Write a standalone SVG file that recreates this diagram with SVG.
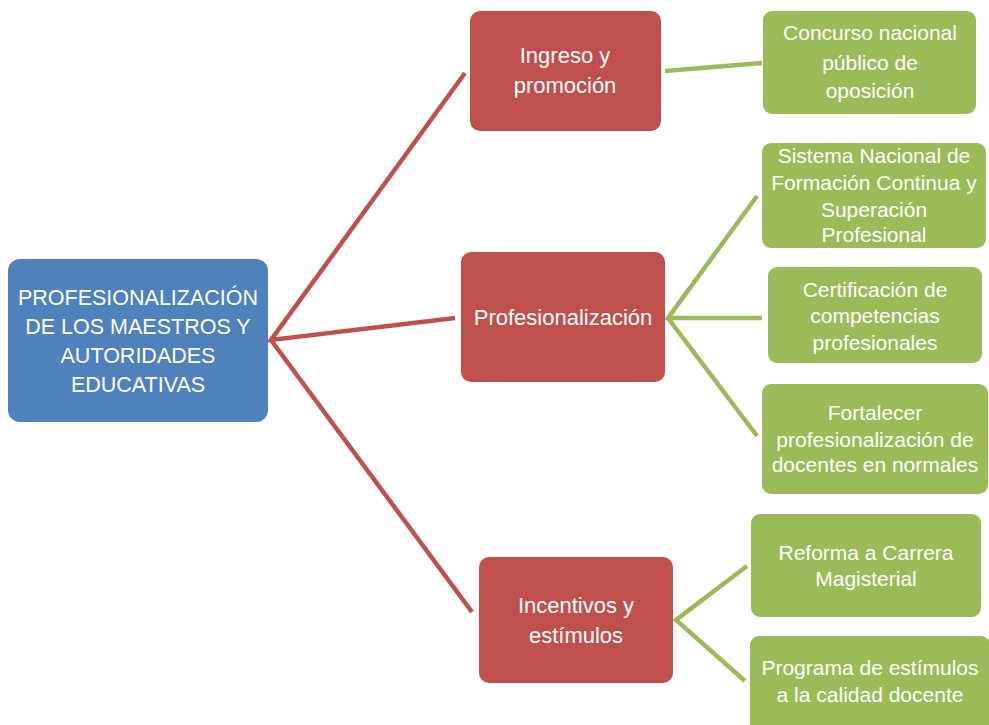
<svg xmlns="http://www.w3.org/2000/svg" width="989" height="725" viewBox="0 0 989 725">
<style>
.blue{fill:#4F81BD}
.red{fill:#C0504D}
.green{fill:#9BBB59}
text{font-family:"Liberation Sans",Arial,sans-serif;fill:#FFFFFF;text-anchor:middle}
.tb{font-size:21.5px}
.tr{font-size:22px}
.tg{font-size:21px}
.cr{stroke:#C0504D;stroke-width:4.5;fill:none;stroke-linecap:butt}
.cg{stroke:#9BBB59;stroke-width:4.5;fill:none;stroke-linecap:butt}
</style>
<rect width="989" height="725" fill="#FFFFFF"/>
<g id="connectors">
<path class="cr" d="M465,73 L271,340 L455,318 M271,340 L472,612"/>
<path class="cg" d="M665,71 L762,63"/>
<path class="cg" d="M757,196 L668,318 L762,318 M668,318 L757,436"/>
<path class="cg" d="M747,566 L676,620 L745,681"/>
</g>
<g id="root">
<rect class="blue" x="8" y="259" width="260" height="163" rx="12"/>
<text class="tb" x="138" y="305">PROFESIONALIZACIÓN</text>
<text class="tb" x="138" y="334">DE LOS MAESTROS Y</text>
<text class="tb" x="138" y="363">AUTORIDADES</text>
<text class="tb" x="138" y="392">EDUCATIVAS</text>
</g>
<g id="ingreso">
<rect class="red" x="470" y="11" width="191" height="120" rx="10"/>
<text class="tr" x="565" y="63">Ingreso y</text>
<text class="tr" x="565" y="93">promoción</text>
</g>
<g id="profesionalizacion">
<rect class="red" x="461" y="252" width="204" height="130" rx="10"/>
<text class="tr" x="563" y="325">Profesionalización</text>
</g>
<g id="incentivos">
<rect class="red" x="479" y="557" width="194" height="126" rx="10"/>
<text class="tr" x="576" y="613">Incentivos y</text>
<text class="tr" x="576" y="643">estímulos</text>
</g>
<g id="concurso">
<rect class="green" x="763" y="11" width="213" height="103" rx="9"/>
<text class="tg" x="870" y="40">Concurso nacional</text>
<text class="tg" x="870" y="70">público de</text>
<text class="tg" x="870" y="98">oposición</text>
</g>
<g id="sistema">
<rect class="green" x="762" y="143" width="224" height="105" rx="9"/>
<text class="tg" x="874" y="163">Sistema Nacional de</text>
<text class="tg" x="874" y="190">Formación Continua y</text>
<text class="tg" x="874" y="217">Superación</text>
<text class="tg" x="874" y="242">Profesional</text>
</g>
<g id="certificacion">
<rect class="green" x="768" y="267" width="214" height="96" rx="9"/>
<text class="tg" x="875" y="297">Certificación de</text>
<text class="tg" x="875" y="323">competencias</text>
<text class="tg" x="875" y="350">profesionales</text>
</g>
<g id="fortalecer">
<rect class="green" x="762" y="384" width="226" height="110" rx="9"/>
<text class="tg" x="875" y="420">Fortalecer</text>
<text class="tg" x="875" y="447">profesionalización de</text>
<text class="tg" x="875" y="472">docentes en normales</text>
</g>
<g id="reforma">
<rect class="green" x="751" y="514" width="230" height="103" rx="9"/>
<text class="tg" x="866" y="560">Reforma a Carrera</text>
<text class="tg" x="866" y="586">Magisterial</text>
</g>
<g id="programa">
<rect class="green" x="750" y="636" width="240" height="100" rx="9"/>
<text class="tg" x="870" y="675">Programa de estímulos</text>
<text class="tg" x="870" y="702">a la calidad docente</text>
</g>
</svg>
